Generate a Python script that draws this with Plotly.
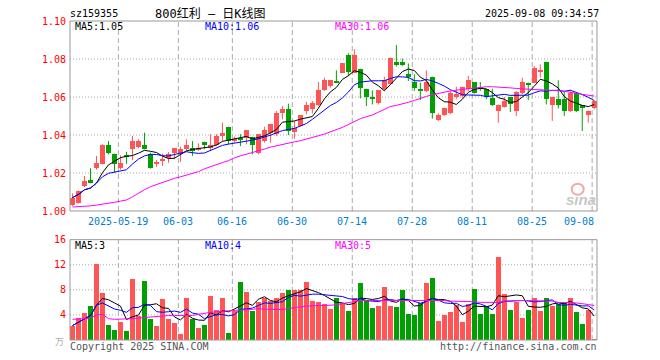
import pandas as pd
import plotly.graph_objects as go

# ---------------- data ----------------
holidays = ["2025-06-02"]
dates = [d.strftime("%Y-%m-%d") for d in pd.bdate_range("2025-05-07", "2025-09-08")
         if d.strftime("%Y-%m-%d") not in holidays]

opens = [1.0032, 1.0044, 1.0132, 1.0161, 1.0225, 1.0249, 1.0346, 1.0302, 1.0226, 1.0290,
         1.0325, 1.0337, 1.0346, 1.0302, 1.0249, 1.0263, 1.0281, 1.0304, 1.0302, 1.0325,
         1.0333, 1.0325, 1.0365, 1.0333, 1.0346, 1.0395, 1.0444, 1.0370, 1.0386, 1.0386,
         1.0391, 1.0304, 1.0368, 1.0409, 1.0404, 1.0514, 1.0535, 1.0416, 1.0447, 1.0526,
         1.0535, 1.0556, 1.0637, 1.0658, 1.0679, 1.0728, 1.0821, 1.0728, 1.0749, 1.0644,
         1.0597, 1.0567, 1.0640, 1.0670, 1.0786, 1.0786, 1.0719, 1.0679, 1.0644, 1.0632,
         1.0707, 1.0479, 1.0504, 1.0518, 1.0602, 1.0605, 1.0640, 1.0679, 1.0649, 1.0640,
         1.0596, 1.0526, 1.0547, 1.0600, 1.0526, 1.0623, 1.0675, 1.0675, 1.0732, 1.0786,
         1.0558, 1.0588, 1.0588, 1.0526, 1.0619, 1.0556, 1.0505, 1.0544]
highs = [1.0093, 1.0108, 1.0184, 1.0225, 1.0290, 1.0351, 1.0368, 1.0302, 1.0293, 1.0312,
         1.0395, 1.0377, 1.0412, 1.0307, 1.0268, 1.0302, 1.0310, 1.0333, 1.0339, 1.0377,
         1.0368, 1.0356, 1.0365, 1.0404, 1.0404, 1.0465, 1.0444, 1.0391, 1.0404, 1.0425,
         1.0391, 1.0404, 1.0444, 1.0456, 1.0526, 1.0553, 1.0565, 1.0474, 1.0504, 1.0575,
         1.0579, 1.0679, 1.0702, 1.0688, 1.0740, 1.0777, 1.0830, 1.0851, 1.0749, 1.0644,
         1.0635, 1.0635, 1.0707, 1.0807, 1.0874, 1.0802, 1.0777, 1.0719, 1.0675, 1.0740,
         1.0707, 1.0514, 1.0544, 1.0632, 1.0654, 1.0654, 1.0711, 1.0679, 1.0679, 1.0640,
         1.0644, 1.0561, 1.0600, 1.0600, 1.0632, 1.0702, 1.0675, 1.0763, 1.0772, 1.0786,
         1.0600, 1.0688, 1.0632, 1.0632, 1.0619, 1.0556, 1.0530, 1.0582]
lows = [1.0026, 1.0040, 1.0126, 1.0146, 1.0218, 1.0246, 1.0298, 1.0202, 1.0219, 1.0249,
        1.0268, 1.0330, 1.0325, 1.0223, 1.0232, 1.0237, 1.0254, 1.0272, 1.0258, 1.0316,
        1.0290, 1.0316, 1.0325, 1.0316, 1.0342, 1.0368, 1.0351, 1.0360, 1.0342, 1.0351,
        1.0298, 1.0298, 1.0360, 1.0360, 1.0395, 1.0482, 1.0400, 1.0381, 1.0444, 1.0509,
        1.0514, 1.0553, 1.0632, 1.0649, 1.0674, 1.0728, 1.0711, 1.0728, 1.0593, 1.0553,
        1.0561, 1.0561, 1.0632, 1.0667, 1.0760, 1.0763, 1.0684, 1.0632, 1.0584, 1.0626,
        1.0486, 1.0474, 1.0500, 1.0509, 1.0588, 1.0596, 1.0632, 1.0618, 1.0632, 1.0588,
        1.0553, 1.0465, 1.0544, 1.0521, 1.0500, 1.0614, 1.0584, 1.0675, 1.0702, 1.0561,
        1.0474, 1.0540, 1.0500, 1.0521, 1.0521, 1.0421, 1.0465, 1.0535]
closes = [1.0070, 1.0105, 1.0160, 1.0149, 1.0251, 1.0346, 1.0307, 1.0249, 1.0251, 1.0285,
          1.0368, 1.0368, 1.0325, 1.0225, 1.0253, 1.0275, 1.0302, 1.0333, 1.0325, 1.0346,
          1.0316, 1.0333, 1.0346, 1.0346, 1.0395, 1.0412, 1.0368, 1.0381, 1.0377, 1.0425,
          1.0346, 1.0404, 1.0425, 1.0456, 1.0514, 1.0539, 1.0421, 1.0439, 1.0504, 1.0556,
          1.0567, 1.0635, 1.0688, 1.0688, 1.0674, 1.0777, 1.0732, 1.0821, 1.0646, 1.0600,
          1.0593, 1.0635, 1.0689, 1.0807, 1.0768, 1.0768, 1.0705, 1.0649, 1.0632, 1.0679,
          1.0518, 1.0504, 1.0544, 1.0619, 1.0618, 1.0654, 1.0688, 1.0623, 1.0644, 1.0605,
          1.0556, 1.0556, 1.0579, 1.0561, 1.0628, 1.0679, 1.0667, 1.0751, 1.0740, 1.0588,
          1.0600, 1.0558, 1.0526, 1.0623, 1.0526, 1.0547, 1.0526, 1.0579]
volumes = [2.3, 3.5, 4.3, 5.5, 12.2, 7.6, 2.5, 1.7, 3.0, 1.5,
           9.8, 3.9, 9.5, 3.4, 2.3, 6.6, 3.4, 2.7, 1.0, 6.8,
           3.4, 2.0, 2.5, 7.1, 4.9, 6.8, 1.2, 4.7, 9.3, 7.7,
           4.7, 6.1, 6.7, 6.3, 6.7, 7.6, 8.0, 8.1, 8.0, 9.3,
           6.3, 6.1, 5.8, 5.0, 6.8, 5.9, 4.7, 6.8, 9.2, 6.4,
           5.2, 5.5, 8.5, 5.5, 5.3, 8.0, 4.2, 4.1, 5.9, 9.2,
           9.9, 3.1, 4.1, 4.5, 5.6, 2.9, 5.8, 8.2, 4.2, 5.4,
           4.2, 13.3, 7.4, 4.9, 6.1, 3.6, 4.9, 6.8, 4.7, 6.8,
           5.5, 5.8, 6.0, 6.8, 4.5, 2.6, 4.9, 0.25]
# 30-day averages (they include days before the window)
ma30_price = [1.0021, 1.0022, 1.0024, 1.0027, 1.0031, 1.0035, 1.0040, 1.0046, 1.0052, 1.0058,
              1.0075, 1.0095, 1.0112, 1.0128, 1.0140, 1.0152, 1.0162, 1.0172, 1.0180, 1.0188,
              1.0195, 1.0207, 1.0222, 1.0234, 1.0245, 1.0255, 1.0265, 1.0280, 1.0290, 1.0298,
              1.0307, 1.0316, 1.0326, 1.0336, 1.0344, 1.0352, 1.0358, 1.0364, 1.0370, 1.0380,
              1.0388, 1.0396, 1.0405, 1.0416, 1.0428, 1.0440, 1.0455, 1.0470, 1.0486, 1.0496,
              1.0505, 1.0520, 1.0535, 1.0550, 1.0556, 1.0563, 1.0572, 1.0582, 1.0594, 1.0603,
              1.0612, 1.0620, 1.0626, 1.0632, 1.0636, 1.0640, 1.0645, 1.0649, 1.0652, 1.0654,
              1.0654, 1.0653, 1.0651, 1.0648, 1.0645, 1.0642, 1.0640, 1.0639, 1.0638, 1.0637,
              1.0635, 1.0633, 1.0630, 1.0626, 1.0620, 1.0614, 1.0609, 1.0605]
ma30_vol = [3.3, 3.3, 3.4, 3.5, 4.0, 4.1, 3.4, 3.3, 3.3, 3.3,
            3.4, 3.5, 3.6, 3.7, 3.8, 3.9, 3.9, 3.9, 3.9, 3.9,
            3.9, 4.1, 4.3, 4.4, 4.5, 4.6, 4.6, 4.7, 4.8, 4.8,
            4.9, 5.0, 4.9, 4.9, 4.9, 4.85, 5.0, 5.2, 5.3, 5.4,
            5.5, 5.5, 5.5, 5.5, 5.6, 5.8, 6.0, 6.1, 6.3, 6.3,
            6.3, 6.4, 6.4, 6.4, 6.4, 6.4, 6.4, 6.4, 6.4, 6.4,
            6.4, 6.3, 6.3, 6.2, 6.2, 6.1, 6.1, 6.1, 6.0, 6.0,
            6.0, 6.0, 6.2, 6.3, 6.3, 6.3, 6.3, 6.3, 6.3, 6.3,
            6.2, 6.0, 6.0, 5.9, 5.9, 5.8, 5.7, 5.5]
tick_dates = ["2025-05-19", "2025-06-03", "2025-06-16", "2025-06-30", "2025-07-14",
              "2025-07-28", "2025-08-11", "2025-08-25", "2025-09-08"]
tick_labels = ["2025-05-19", "06-03", "06-16", "06-30", "07-14", "07-28", "08-11", "08-25", "09-08"]
price_ticks = [1.00, 1.02, 1.04, 1.06, 1.08, 1.10]
vol_ticks = [4, 8, 12, 16]

# ---------------- derived ----------------
n = len(dates)
idx = list(range(n))
ma5 = pd.Series(closes).rolling(5, min_periods=1).mean().tolist()
ma10 = pd.Series(closes).rolling(10, min_periods=1).mean().tolist()
vma5 = pd.Series(volumes).rolling(5, min_periods=1).mean().tolist()
vma10 = pd.Series(volumes).rolling(10, min_periods=1).mean().tolist()

RED = "#ff5555"
GREEN = "#00a000"
MONO = "DejaVu Sans Mono"

W, H = 660, 360
L, R, T, B = 70, 597.3, 21, 340.5
PW, PH = R - L, B - T
def px(x): return (x - L) / PW
def py(y): return (B - y) / PH

price_dom = [py(211.3), 1.0]
vol_dom = [0.0, py(240)]
XR = [-0.42, 87.46]

fig = go.Figure()

up = [i for i in idx if closes[i] >= opens[i]]
dn = [i for i in idx if closes[i] < opens[i]]

def wicks(sel):
    xs, ys = [], []
    for i in sel:
        xs += [i, i, None]
        ys += [lows[i], highs[i], None]
    return xs, ys

for sel, col in ((up, RED), (dn, GREEN)):
    xs, ys = wicks(sel)
    fig.add_trace(go.Scatter(x=xs, y=ys, mode="lines", line=dict(color=col, width=1),
                             hoverinfo="skip", showlegend=False, xaxis="x", yaxis="y"))
    fig.add_trace(go.Bar(x=sel, base=[min(opens[i], closes[i]) for i in sel],
                         y=[max(abs(closes[i] - opens[i]), 0.0006) for i in sel],
                         width=0.82, marker=dict(color=col, line=dict(width=0)),
                         showlegend=False, xaxis="x", yaxis="y"))
    fig.add_trace(go.Bar(x=sel, y=[volumes[i] for i in sel], width=0.82,
                         marker=dict(color=col, line=dict(width=0)),
                         showlegend=False, xaxis="x2", yaxis="y2"))

for ys, col in ((ma5, "#000000"), (ma10, "#0000ff"), (ma30_price, "#ff00ff")):
    fig.add_trace(go.Scatter(x=idx, y=ys, mode="lines", line=dict(color=col, width=1),
                             showlegend=False, xaxis="x", yaxis="y"))
for ys, col in ((vma5, "#000000"), (vma10, "#0000ff"), (ma30_vol, "#ff00ff")):
    fig.add_trace(go.Scatter(x=idx, y=ys, mode="lines", line=dict(color=col, width=1),
                             showlegend=False, xaxis="x2", yaxis="y2"))

shapes = []
GRID = "#aaaaaa"
for v in price_ticks[1:-1]:
    shapes.append(dict(type="line", xref="paper", yref="y", x0=0, x1=1, y0=v, y1=v,
                       line=dict(color=GRID, width=1, dash="1px,2px"), layer="below"))
for v in vol_ticks[:-1]:
    shapes.append(dict(type="line", xref="paper", yref="y2", x0=0, x1=1, y0=v, y1=v,
                       line=dict(color=GRID, width=1, dash="1px,2px"), layer="below"))
tick_idx = [dates.index(d) for d in tick_dates]
for ti in tick_idx:
    for yr in ("y domain", "y2 domain"):
        shapes.append(dict(type="line", xref="x", yref=yr, x0=ti - 0.35, x1=ti - 0.35,
                           y0=0, y1=1, line=dict(color=GRID, width=1, dash="5px,3px"),
                           layer="below"))
for dom in (price_dom, vol_dom):
    shapes.append(dict(type="rect", xref="paper", yref="paper", x0=0, x1=1,
                       y0=dom[0], y1=dom[1], line=dict(color="#999999", width=1)))
# sina watermark eye
shapes.append(dict(type="circle", xref="paper", yref="paper", x0=px(572), x1=px(584),
                   y0=py(195), y1=py(184), line=dict(color="#f2a8a8", width=2)))

anns = []
def ann(text, x, y, color, size=10, xanchor="left", family=MONO, **kw):
    d = dict(text=text, x=px(x), y=py(y), xref="paper", yref="paper", xanchor=xanchor,
             yanchor="middle", showarrow=False,
             font=dict(family=family, size=size, color=color))
    d.update(kw)
    anns.append(d)

ann("sz159355", 68, 13, "#000000", 10)
ann("800红利 — 日K线图", 211, 13, "#000000", 12, "center",
    family="DejaVu Sans Mono, Noto Sans CJK SC")
ann("2025-09-08 09:34:57", 601, 13, "#000000", 10, "right")

for v in price_ticks:
    anns.append(dict(text=f"{v:.2f}", x=px(68), y=v, xref="paper", yref="y", xanchor="right",
                     yanchor="middle", showarrow=False,
                     font=dict(family=MONO, size=10, color="#ff0000")))
for v in vol_ticks:
    anns.append(dict(text=str(v), x=px(68), y=v, xref="paper", yref="y2", xanchor="right",
                     yanchor="middle", showarrow=False,
                     font=dict(family=MONO, size=10, color="#ff0000")))
ann("万", 59, 342, "#aaaaaa", 9, "center", family="Noto Sans CJK SC")

ann("MA5:1.05", 73, 27, "#000000")
ann("MA10:1.06", 203, 27, "#0000ff")
ann("MA30:1.06", 333, 27, "#ff00ff")
ann("MA5:3", 73, 246, "#000000")
ann("MA10:4", 203, 246, "#0000ff")
ann("MA30:5", 333, 246, "#ff00ff")

for ti, lab in zip(tick_idx, tick_labels):
    if ti == n - 1:
        anns.append(dict(text=lab, x=px(596), y=py(222), xref="paper", yref="paper",
                         xanchor="right", yanchor="middle", showarrow=False,
                         font=dict(family=MONO, size=10, color="#0080d0")))
    else:
        anns.append(dict(text=lab, x=ti - 0.35, y=py(222), xref="x", yref="paper",
                         xanchor="center", yanchor="middle", showarrow=False,
                         font=dict(family=MONO, size=10, color="#0080d0")))

ann("Copyright 2025 SINA.COM", 68, 347, "#555555")
ann("http://finance.sina.com.cn", 599, 347, "#555555", 10, "right")
ann("<b><i>sina</i></b>", 581, 200, "#c8c8c8", 15, "center", family="Arial, Liberation Sans")

fig.update_layout(
    width=W, height=H, autosize=False,
    margin=dict(l=L, r=W - R, t=T, b=H - B, pad=0),
    paper_bgcolor="#ffffff", plot_bgcolor="#ffffff",
    barmode="overlay", bargap=0, showlegend=False,
    xaxis=dict(range=XR, domain=[0, 1], anchor="y", showgrid=False, zeroline=False,
               showticklabels=False, ticks="", fixedrange=True),
    xaxis2=dict(range=XR, domain=[0, 1], anchor="y2", showgrid=False, zeroline=False,
                showticklabels=False, ticks="", matches="x"),
    yaxis=dict(range=[1.0, 1.10], domain=price_dom, showgrid=False, zeroline=False,
               showticklabels=False, ticks=""),
    yaxis2=dict(range=[0, 16], domain=vol_dom, showgrid=False, zeroline=False,
                showticklabels=False, ticks=""),
    shapes=shapes, annotations=anns,
)

fig.write_html("out.html", config={"displayModeBar": False},
               post_script="document.body.style.margin='0px';document.body.style.overflow='hidden';")
